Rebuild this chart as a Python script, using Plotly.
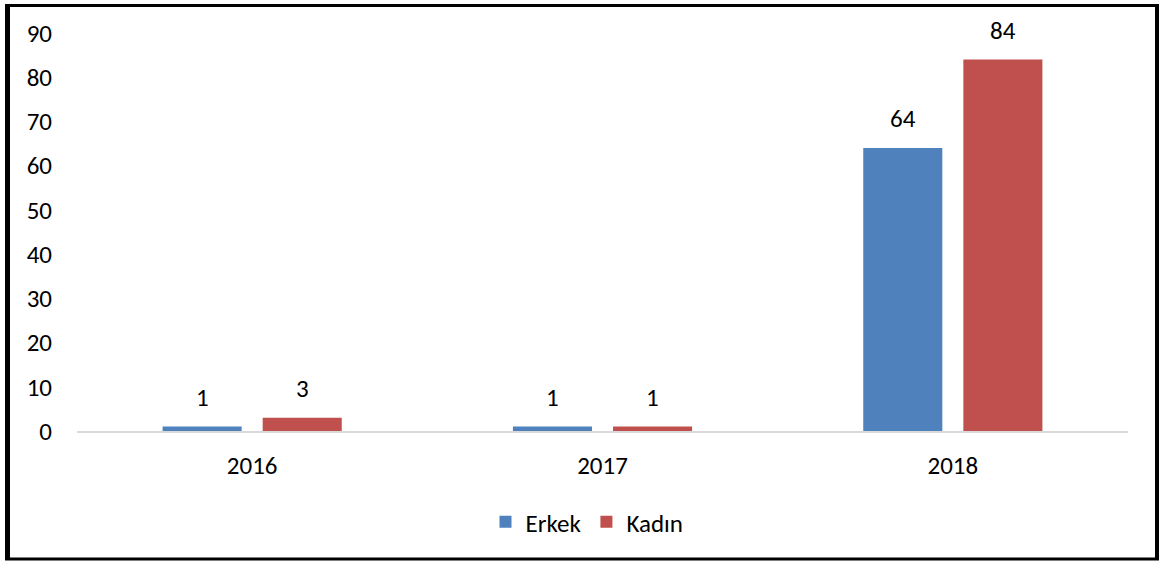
import plotly.graph_objects as go

categories = ["2016", "2017", "2018"]
erkek = [1, 1, 64]
kadin = [3, 1, 84]
series_names = ["Erkek", "Kadın"]
colors = ["#4F81BD", "#C0504D"]
y_ticks = [0, 10, 20, 30, 40, 50, 60, 70, 80, 90]

FONT = "Carlito, Lato, sans-serif"
FS = 25
W, H = 1163, 561
L, R, T, B = 77, 1163 - 1128, 33, 561 - 431

fig = go.Figure()
for name, vals, col in zip(series_names, [erkek, kadin], colors):
    fig.add_trace(go.Bar(name=name, x=categories, y=vals, marker_color=col,
                         marker_line_width=0, cliponaxis=False, hoverinfo="skip"))

pw = W - L - R
ph = H - T - B
BARGAP = 0.4286
slot = pw / len(categories) * (1 - BARGAP) / 2
annotations = []
for i, vals in enumerate([erkek, kadin]):
    off = (i - 0.5) * slot
    for j, v in enumerate(vals):
        annotations.append(dict(x=j, y=v, text=str(v), showarrow=False,
                                xref="x", yref="y", xshift=off, yshift=12,
                                yanchor="bottom",
                                font=dict(family=FONT, size=FS, color="#000000")))

def px2paper_x(px):
    return (px - L) / pw

def px2paper_y(py):
    return (H - B - py) / ph

line_black = "#000000"
shapes = [
    dict(type="line", xref="paper", yref="paper", x0=px2paper_x(7.5), x1=px2paper_x(7.5),
         y0=px2paper_y(4), y1=px2paper_y(560), line=dict(color=line_black, width=5)),
    dict(type="line", xref="paper", yref="paper", x0=px2paper_x(5), x1=px2paper_x(1159),
         y0=px2paper_y(5.5), y1=px2paper_y(5.5), line=dict(color=line_black, width=3)),
    dict(type="line", xref="paper", yref="paper", x0=px2paper_x(1157), x1=px2paper_x(1157),
         y0=px2paper_y(4), y1=px2paper_y(560), line=dict(color=line_black, width=4)),
    dict(type="line", xref="paper", yref="paper", x0=px2paper_x(5), x1=px2paper_x(1159),
         y0=px2paper_y(559), y1=px2paper_y(559), line=dict(color=line_black, width=3)),
]

fig.update_layout(
    width=W, height=H,
    margin=dict(l=L, r=R, t=T, b=B, pad=0),
    paper_bgcolor="white", plot_bgcolor="white",
    barmode="group", bargap=BARGAP, bargroupgap=0.21,
    font=dict(family=FONT, size=FS, color="#000000"),
    showlegend=True,
    legend=dict(orientation="h", xref="container", x=587 / W, xanchor="center",
                yref="container", y=(H - 522) / H, yanchor="middle",
                font=dict(family=FONT, size=FS, color="#000000"),
                itemwidth=30, tracegroupgap=0),
    annotations=annotations,
    shapes=shapes,
)
fig.update_xaxes(type="category", range=[-0.5, len(categories) - 0.5],
                 showline=True, linecolor="#D9D9D9", linewidth=2,
                 showgrid=False, ticks="", ticklabelstandoff=11, zeroline=False)
fig.update_yaxes(range=[0, 90], tickvals=y_ticks, showgrid=False, zeroline=False,
                 showline=False, ticks="", ticklabelstandoff=24)

fig.write_html("out.html", config={"displayModeBar": False},
               post_script="document.body.style.margin='0';")
